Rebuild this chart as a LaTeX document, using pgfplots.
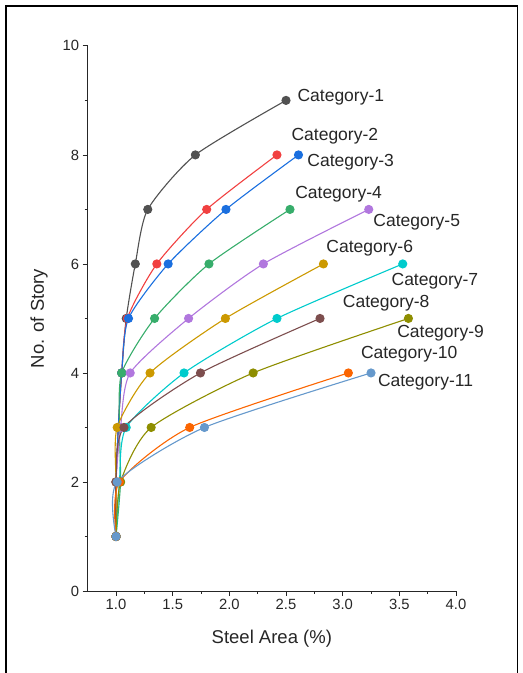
\documentclass[border=0pt]{standalone}
\usepackage{fontspec}
\setmainfont{Liberation Sans}
\usepackage{pgfplots}
\pgfplotsset{compat=1.18}
\definecolor{c1}{HTML}{515151}
\definecolor{c2}{HTML}{F14040}
\definecolor{c3}{HTML}{1A6FDF}
\definecolor{c4}{HTML}{37AD6B}
\definecolor{c5}{HTML}{B177DE}
\definecolor{c6}{HTML}{CC9900}
\definecolor{c7}{HTML}{00CBCC}
\definecolor{c8}{HTML}{7D4E4E}
\definecolor{c9}{HTML}{8E8E00}
\definecolor{c10}{HTML}{FB6501}
\definecolor{c11}{HTML}{6699CC}
\begin{document}
\begin{tikzpicture}[x=1bp,y=1bp]
\useasboundingbox (0,0) rectangle (523,673);
\draw[line width=1.6bp] (6,-10) -- (6,667) -- (517.5,667) -- (517.5,-10);
\begin{axis}[
  at={(87.7bp,82bp)}, anchor=south west, scale only axis,
  width=368.3bp, height=545.1bp,
  xmin=0.75, xmax=4, ymin=0, ymax=10,
  axis x line*=bottom, axis y line*=left,
  axis line style={-, line width=0.9bp, black!85},
  tick align=outside, tick style={black!85, line width=0.8bp},
  xtick={1,1.5,2,2.5,3,3.5,4}, ytick={0,2,4,6,8,10},
  minor x tick num=1, minor y tick num=1,
  major tick length=5bp, minor tick length=3bp,
  clip=false,
  /pgf/number format/assume math mode=true,
  tick label style={font=\fontsize{14.8bp}{16bp}\selectfont, text=black!85},
  x tick label style={/pgf/number format/fixed, /pgf/number format/fixed zerofill, /pgf/number format/precision=1},
  xlabel={Steel Area (\%)}, ylabel={No. of Story},
  label style={font=\fontsize{18.5bp}{21bp}\selectfont, text=black!85},
  xlabel style={at={(axis description cs:0.5,-0.088)}, anchor=center},
  ylabel style={at={(axis description cs:-0.132,0.5)}, anchor=center},
  every axis plot/.append style={smooth, tension=0.4, line width=1.1bp, mark=*, mark size=4bp, mark options={solid}},
]
\addplot[c1] coordinates {(1,1)(1.0,2)(1.02,3)(1.05,4)(1.09,5)(1.17,6)(1.28,7)(1.70,8)(2.50,9)};
\addplot[c2] coordinates {(1,1)(1.0,2)(1.02,3)(1.05,4)(1.10,5)(1.36,6)(1.80,7)(2.42,8)};
\addplot[c3] coordinates {(1,1)(1.0,2)(1.02,3)(1.05,4)(1.11,5)(1.46,6)(1.97,7)(2.61,8)};
\addplot[c4] coordinates {(1,1)(1.04,2)(1.03,3)(1.05,4)(1.34,5)(1.82,6)(2.535,7)};
\addplot[c5] coordinates {(1,1)(1.0,2)(1.04,3)(1.125,4)(1.64,5)(2.30,6)(3.23,7)};
\addplot[c6] coordinates {(1,1)(1.0,2)(1.01,3)(1.30,4)(1.965,5)(2.83,6)};
\addplot[c7] coordinates {(1,1)(1.03,2)(1.09,3)(1.60,4)(2.42,5)(3.53,6)};
\addplot[c8] coordinates {(1,1)(1.0,2)(1.07,3)(1.745,4)(2.80,5)};
\addplot[c9] coordinates {(1,1)(1.04,2)(1.31,3)(2.21,4)(3.58,5)};
\addplot[c10] coordinates {(1,1)(1.03,2)(1.65,3)(3.05,4)};
\addplot[c11] coordinates {(1,1)(1.01,2)(1.78,3)(3.25,4)};
\begin{scope}[every node/.style={anchor=west, inner sep=0pt, font=\fontsize{17.5bp}{20bp}\selectfont, text=black!85}]
\node at (axis cs:2.60,9.05) {Category-1};
\node at (axis cs:2.547,8.35) {Category-2};
\node at (axis cs:2.687,7.87) {Category-3};
\node at (axis cs:2.58,7.27) {Category-4};
\node at (axis cs:3.27,6.77) {Category-5};
\node at (axis cs:2.855,6.29) {Category-6};
\node at (axis cs:3.43,5.69) {Category-7};
\node at (axis cs:3.00,5.28) {Category-8};
\node at (axis cs:3.48,4.73) {Category-9};
\node at (axis cs:3.16,4.35) {Category-10};
\node at (axis cs:3.31,3.83) {Category-11};
\end{scope}
\end{axis}
\end{tikzpicture}
\end{document}
